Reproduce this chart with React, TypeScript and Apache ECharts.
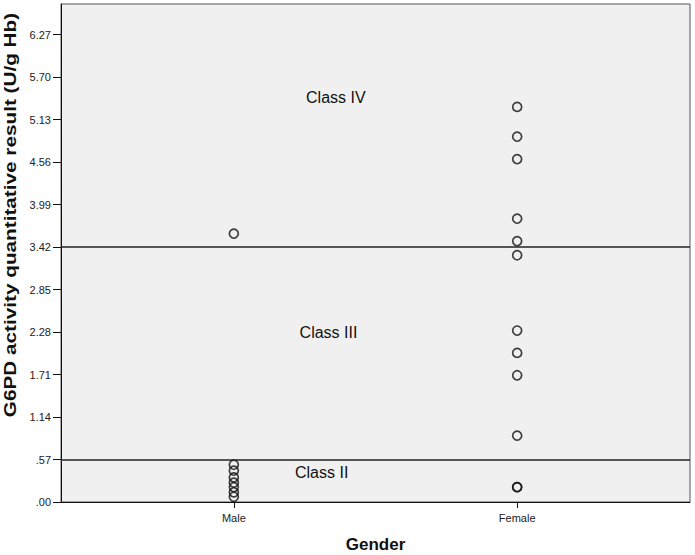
import React, { useEffect, useRef } from "react";
import * as echarts from "echarts";

const categories = ["Male", "Female"];
const categoryPositions = [1, 2];
const maleValues = [3.6, 0.5, 0.42, 0.33, 0.26, 0.2, 0.13, 0.07];
const femaleValues = [5.3, 4.9, 4.6, 3.8, 3.5, 3.31, 2.3, 2.0, 1.7, 0.89, 0.2, 0.2];
const yTicks = [0, 0.57, 1.14, 1.71, 2.28, 2.85, 3.42, 3.99, 4.56, 5.13, 5.7, 6.27];
const classCutoffs = [0.57, 3.42];
const classLabels = [
  { name: "Class IV", x: 1.36, y: 5.425 },
  { name: "Class III", x: 1.334, y: 2.28 },
  { name: "Class II", x: 1.31, y: 0.394 },
];
const yTitle = "G6PD activity quantitative result (U/g Hb)";
const xTitle = "Gender";

export default function App() {
  const ref = useRef<HTMLDivElement>(null);
  useEffect(() => {
    if (!ref.current) return;
    const chart = echarts.init(ref.current, null, { renderer: "svg" });
    const font = "Liberation Sans, Arial, sans-serif";
    const pointStyle = {
      color: "rgba(0,0,0,0)",
      borderColor: "#111",
      borderWidth: 1.7,
    };
    chart.setOption({
      animation: false,
      backgroundColor: "#ffffff",
      grid: {
        left: 61,
        right: 5,
        top: 4,
        bottom: 53,
        outerBoundsMode: "none",
        containLabel: false,
        show: true,
        backgroundColor: "#f0f0f0",
        borderColor: "#555",
        borderWidth: 1,
      },
      graphic: [
        {
          type: "text",
          x: 10,
          y: 215,
          rotation: Math.PI / 2,
          scaleX: 1.22,
          style: {
            text: yTitle,
            fontFamily: font,
            fontSize: 17,
            fontWeight: "bold",
            fill: "#111",
            align: "center",
            verticalAlign: "middle",
          },
        },
      ],
      xAxis: {
        type: "value",
        min: 0.39,
        max: 2.61,
        name: xTitle,
        nameLocation: "middle",
        nameGap: 34,
        nameTextStyle: { fontFamily: font, fontSize: 17, fontWeight: "bold", color: "#111" },
        axisLine: { show: true, lineStyle: { color: "#111", width: 1 } },
        axisTick: {
          show: true,
          length: 6,
          inside: false,
          customValues: categoryPositions,
          lineStyle: { color: "#111" },
        },
        axisLabel: {
          customValues: categoryPositions,
          margin: 10,
          fontFamily: font,
          fontSize: 11,
          color: "#222",
          formatter: (v: number) => {
            const i = categoryPositions.indexOf(Math.round(v));
            return i >= 0 ? categories[i] : "";
          },
        },
        splitLine: { show: false },
      },
      yAxis: {
        type: "value",
        min: 0,
        max: 6.68,
        axisLine: { show: true, lineStyle: { color: "#111", width: 1 } },
        axisTick: {
          show: true,
          length: 8,
          customValues: yTicks,
          lineStyle: { color: "#111" },
        },
        axisLabel: {
          customValues: yTicks,
          margin: 10,
          fontFamily: font,
          fontSize: 11,
          color: "#222",
          formatter: (v: number) => v.toFixed(2).replace(/^0\./, "."),
        },
        splitLine: { show: false },
      },
      series: [
        {
          type: "scatter",
          name: "Male",
          symbol: "circle",
          symbolSize: 9,
          itemStyle: pointStyle,
          data: maleValues.map((v) => [categoryPositions[0], v]),
          markLine: {
            silent: true,
            symbol: ["none", "none"],
            label: { show: false },
            lineStyle: { color: "#222", width: 1.5, type: "solid" },
            data: classCutoffs.map((c) => ({ yAxis: c })),
          },
        },
        {
          type: "scatter",
          name: "Female",
          symbol: "circle",
          symbolSize: 9,
          itemStyle: pointStyle,
          data: femaleValues.map((v) => [categoryPositions[1], v]),
        },
        {
          type: "scatter",
          name: "labels",
          symbolSize: 1,
          itemStyle: { color: "rgba(0,0,0,0)" },
          silent: true,
          label: {
            show: true,
            position: "inside",
            formatter: (p: any) => p.data.name,
            fontFamily: font,
            fontSize: 16,
            color: "#111",
            opacity: 1,
            textBorderWidth: 0,
          },
          data: classLabels.map((l) => ({ name: l.name, value: [l.x, l.y] })),
        },
      ],
    });
    return () => chart.dispose();
  }, []);
  return <div ref={ref} style={{ width: 695, height: 555, position: "absolute", left: 0, top: 0 }} />;
}
